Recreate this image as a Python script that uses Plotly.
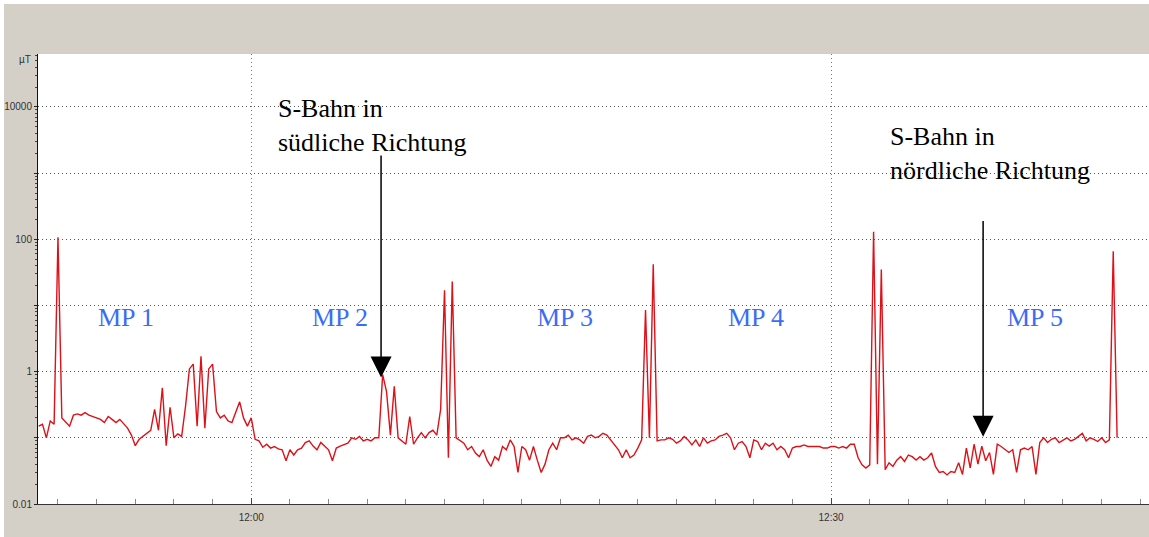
import pandas as pd
import plotly.graph_objects as go

# ---------------- data (µT, one sample every 12 s from 11:49:00) ----------------
SAMPLE_START = "2009-05-12 11:49:00"
SAMPLE_STEP_S = 12

flux_1149 = [0.15, 0.16, 0.1, 0.18, 0.16, 107, 0.2, 0.17, 0.15, 0.22]
flux_1151 = [0.23, 0.22, 0.24, 0.22, 0.21, 0.2, 0.19, 0.17, 0.21, 0.19]
flux_1153 = [0.17, 0.19, 0.16, 0.14, 0.11, 0.076, 0.095, 0.105, 0.115, 0.13]
flux_1155 = [0.27, 0.13, 0.57, 0.076, 0.29, 0.1, 0.115, 0.105, 0.3, 1.1]
flux_1157 = [1.3, 0.15, 1.7, 0.14, 1.1, 1.3, 0.25, 0.2, 0.22, 0.18]
flux_1159 = [0.17, 0.25, 0.35, 0.2, 0.15, 0.2, 0.095, 0.09, 0.072, 0.08]
flux_1201 = [0.07, 0.074, 0.068, 0.066, 0.045, 0.066, 0.055, 0.066, 0.07, 0.085]
flux_1203 = [0.09, 0.075, 0.066, 0.085, 0.075, 0.066, 0.045, 0.07, 0.075, 0.08]
flux_1205 = [0.083, 0.1, 0.095, 0.105, 0.09, 0.095, 0.09, 0.1, 0.1, 0.9]
flux_1207 = [0.5, 0.11, 0.6, 0.1, 0.09, 0.08, 0.21, 0.08, 0.1, 0.12]
flux_1209 = [0.1, 0.12, 0.13, 0.11, 0.27, 17, 0.05, 23, 0.1, 0.09]
flux_1211 = [0.083, 0.066, 0.074, 0.059, 0.052, 0.066, 0.046, 0.037, 0.052, 0.046]
flux_1213 = [0.074, 0.066, 0.093, 0.074, 0.03, 0.074, 0.066, 0.046, 0.074, 0.046]
flux_1215 = [0.03, 0.04, 0.066, 0.083, 0.066, 0.1, 0.1, 0.11, 0.093, 0.1]
flux_1217 = [0.093, 0.083, 0.105, 0.11, 0.1, 0.105, 0.117, 0.11, 0.093, 0.08]
flux_1219 = [0.066, 0.05, 0.066, 0.05, 0.055, 0.07, 0.093, 8.5, 0.1, 42]
flux_1221 = [0.09, 0.093, 0.093, 0.1, 0.095, 0.083, 0.09, 0.105, 0.093, 0.078]
flux_1223 = [0.093, 0.074, 0.1, 0.083, 0.09, 0.093, 0.105, 0.11, 0.117, 0.1]
flux_1225 = [0.066, 0.083, 0.088, 0.074, 0.05, 0.093, 0.088, 0.066, 0.083, 0.075]
flux_1227 = [0.083, 0.066, 0.074, 0.066, 0.05, 0.07, 0.074, 0.074, 0.078, 0.074]
flux_1229 = [0.074, 0.074, 0.074, 0.07, 0.07, 0.074, 0.074, 0.07, 0.074, 0.07]
flux_1231 = [0.08, 0.08, 0.05, 0.039, 0.035, 0.039, 130, 0.04, 35, 0.033]
flux_1233 = [0.042, 0.037, 0.046, 0.052, 0.044, 0.055, 0.052, 0.046, 0.052, 0.046]
flux_1235 = [0.05, 0.059, 0.037, 0.03, 0.031, 0.0275, 0.031, 0.03, 0.042, 0.028]
flux_1237 = [0.07, 0.035, 0.08, 0.04, 0.075, 0.045, 0.06, 0.028, 0.08, 0.074]
flux_1239 = [0.066, 0.06, 0.066, 0.03, 0.066, 0.07, 0.066, 0.074, 0.028, 0.085]
flux_1241 = [0.1, 0.085, 0.095, 0.1, 0.085, 0.093, 0.1, 0.09, 0.095, 0.105]
flux_1243 = [0.117, 0.09, 0.1, 0.095, 0.088, 0.1, 0.085, 0.093, 66, 0.1]

x_tick_vals = ["2009-05-12 12:00:00", "2009-05-12 12:30:00"]
x_tick_text = ["12:00", "12:30"]
y_grid_vals = [0.01, 0.1, 1, 10, 100, 1000, 10000]
y_tick_text = ["0.01", "", "1", "", "100", "", "10000"]

mp_labels = ["MP 1", "MP 2", "MP 3", "MP 4", "MP 5"]
mp_times = ["2009-05-12 11:53:32", "2009-05-12 12:04:36", "2009-05-12 12:16:14",
            "2009-05-12 12:26:07", "2009-05-12 12:40:33"]

events = [
    dict(text="S-Bahn in<br>südliche Richtung", label_time="2009-05-12 12:01:17",
         arrow_time="2009-05-12 12:06:43", arrow_from=3.29, arrow_to=-0.09, label_y=4.22),
    dict(text="S-Bahn in<br>nördliche Richtung", label_time="2009-05-12 12:32:56",
         arrow_time="2009-05-12 12:37:52", arrow_from=2.30, arrow_to=-0.985, label_y=3.80),
]

# ---------------------------------------------------------------------------
flux = (flux_1149 + flux_1151 + flux_1153 + flux_1155 + flux_1157 + flux_1159 + flux_1201
        + flux_1203 + flux_1205 + flux_1207 + flux_1209 + flux_1211 + flux_1213 + flux_1215
        + flux_1217 + flux_1219 + flux_1221 + flux_1223 + flux_1225 + flux_1227 + flux_1229
        + flux_1231 + flux_1233 + flux_1235 + flux_1237 + flux_1239 + flux_1241 + flux_1243)
times = pd.date_range(SAMPLE_START, periods=len(flux), freq=f"{SAMPLE_STEP_S}s")

GRAY = "#d4d0c8"
SERIF = "Liberation Serif, Times New Roman, serif"
NARROW = "Liberation Sans Narrow, Arial Narrow, Liberation Sans, sans-serif"

W, H = 1149, 537
ML, MR, MT, MB = 38, 0, 54, 33
PW, PH = W - ML - MR, H - MT - MB

fig = go.Figure()
fig.add_trace(go.Scatter(x=times, y=flux, mode="lines",
                         line=dict(color="#de1018", width=1.4), showlegend=False))

minor_y = [m * 10 ** e for e in range(-2, 5) for m in range(2, 10)]

fig.update_layout(
    width=W, height=H,
    margin=dict(l=ML, r=MR, t=MT, b=MB, autoexpand=False),
    paper_bgcolor=GRAY, plot_bgcolor="white",
    showlegend=False,
    xaxis=dict(
        range=["2009-05-12 11:48:58", "2009-05-12 12:46:27"],
        tickmode="array", tickvals=x_tick_vals, ticktext=x_tick_text,
        ticks="inside", ticklen=6, tickcolor="#444", ticklabelstandoff=4,
        showgrid=True, gridcolor="#777", griddash="1px,3px", gridwidth=1,
        minor=dict(dtick=120000, ticks="inside", ticklen=5, tickcolor="#888", showgrid=False),
        showline=True, linecolor="#333", linewidth=1,
        tickfont=dict(family=NARROW, size=10, color="#333"),
        zeroline=False, automargin=False,
    ),
    yaxis=dict(
        type="log", range=[-2, 4.8],
        tickmode="array", tickvals=y_grid_vals, ticktext=y_tick_text,
        ticks="outside", ticklen=3, tickcolor="#222", ticklabelstandoff=0,
        showgrid=True, gridcolor="#555", griddash="1px,3px", gridwidth=1,
        minor=dict(tickmode="array", tickvals=minor_y, ticks="outside", ticklen=2,
                   tickcolor="#444", showgrid=False),
        showline=True, linecolor="#111", linewidth=1,
        tickfont=dict(family=NARROW, size=10, color="#333"),
        zeroline=False, automargin=False,
    ),
)

# thin white strips at the top and left edge of the picture frame
fig.add_shape(type="rect", xref="paper", yref="paper", layer="below",
              x0=-ML / PW, x1=(4 - ML) / PW, y0=-MB / PH, y1=1 + MT / PH,
              fillcolor="white", line=dict(width=0))
fig.add_shape(type="rect", xref="paper", yref="paper", layer="below",
              x0=-ML / PW, x1=1, y0=1 + (MT - 4) / PH, y1=1 + MT / PH,
              fillcolor="white", line=dict(width=0))

annotations = [dict(xref="paper", yref="paper", x=0, y=1, xanchor="right", yanchor="top",
                    xshift=-5, yshift=2, text="µT", showarrow=False,
                    font=dict(family=NARROW, size=10, color="#333"))]
for lab, t in zip(mp_labels, mp_times):
    annotations.append(dict(x=t, y=0.82, text=lab, showarrow=False,
                            font=dict(family=SERIF, size=26, color="#3b6cf5")))
for ev in events:
    annotations.append(dict(x=ev["label_time"], y=ev["label_y"], text=ev["text"],
                            showarrow=False, xanchor="left", yanchor="top", align="left",
                            font=dict(family=SERIF, size=26, color="black")))
    annotations.append(dict(x=ev["arrow_time"], y=ev["arrow_to"], ax=ev["arrow_time"],
                            ay=ev["arrow_from"], axref="x", ayref="y", text="",
                            showarrow=True, arrowhead=2, arrowsize=2.8, arrowwidth=1.5,
                            arrowcolor="black", standoff=0))
fig.update_layout(annotations=annotations)

fig.write_html("out.html", config={"displayModeBar": False},
               post_script="document.body.style.margin='0';")
